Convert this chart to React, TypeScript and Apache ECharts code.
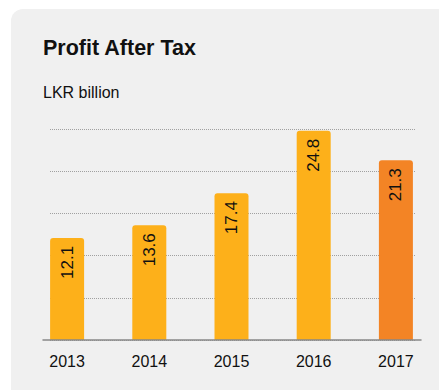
import React, { useEffect, useRef } from "react";
import * as echarts from "echarts";

const categories = ["2013", "2014", "2015", "2016", "2017"];
const values = [12.1, 13.6, 17.4, 24.8, 21.3];
const barColors = ["#FDB01A", "#FDB01A", "#FDB01A", "#FDB01A", "#F38425"];
const yMin = 0;
const yMax = 25;
const yInterval = 5;

export default function App() {
  const ref = useRef<HTMLDivElement>(null);
  useEffect(() => {
    if (!ref.current) return;
    const chart = echarts.init(ref.current, undefined, { renderer: "svg" });
    const font = "'Liberation Sans', Arial, Helvetica, sans-serif";
    const top = 129;
    const bottom = 50;
    chart.setOption({
      animation: false,
      backgroundColor: "#ffffff",
      graphic: [
        {
          type: "rect",
          z: -10,
          shape: { x: 11, y: 9, width: 440, height: 400, r: [12, 0, 0, 0] },
          style: { fill: "#f0f0f0" },
        },
        {
          type: "text",
          left: 43,
          top: 37,
          style: { text: "Profit After Tax", fontSize: 21.5, fontWeight: "bold", fill: "#111", fontFamily: font },
        },
        {
          type: "text",
          left: 43,
          top: 84,
          style: { text: "LKR billion", fontSize: 16, fill: "#111", fontFamily: font },
        },
      ],
      grid: [
        { left: 26, right: 2, top, bottom },
        { left: 50, right: 24, top, bottom },
        { left: 43, right: 18, top, bottom },
      ],
      xAxis: [
        {
          type: "category",
          gridIndex: 0,
          data: categories,
          axisLine: { show: false },
          axisTick: { show: false },
          axisLabel: { fontSize: 16, color: "#111", fontFamily: font, margin: 13 },
        },
        { type: "category", gridIndex: 1, data: categories, show: false },
        {
          type: "category",
          gridIndex: 2,
          data: categories,
          axisLine: { show: true, lineStyle: { color: "#888", width: 1.5 } },
          axisTick: { show: false },
          axisLabel: { show: false },
          z: 20,
        },
      ],
      yAxis: [
        { type: "value", gridIndex: 0, min: yMin, max: yMax, interval: yInterval, show: false, splitLine: { show: false } },
        {
          type: "value",
          gridIndex: 1,
          min: yMin,
          max: yMax,
          interval: yInterval,
          z: 0,
          axisLine: { show: false },
          axisTick: { show: false },
          axisLabel: { show: false },
          splitLine: { show: true, lineStyle: { color: "#a0a0a0", type: [1, 1], width: 1 } },
        },
        { type: "value", gridIndex: 2, min: yMin, max: yMax, interval: yInterval, show: false, splitLine: { show: false } },
      ],
      series: [
        {
          type: "bar",
          xAxisIndex: 0,
          yAxisIndex: 0,
          z: 10,
          barWidth: 34,
          data: values.map((v, i) => ({
            value: v,
            itemStyle: { color: barColors[i], borderRadius: [3, 3, 0, 0] },
          })),
          label: {
            show: true,
            position: "insideTop",
            rotate: 90,
            align: "right",
            verticalAlign: "middle",
            distance: 8,
            fontSize: 17,
            color: "#111",
            fontFamily: font,
            formatter: (p: any) => p.value.toFixed(1),
          },
        },
      ],
    });
    return () => chart.dispose();
  }, []);
  return (
    <div
      ref={ref}
      style={{ position: "fixed", left: 0, top: 0, width: 439, height: 390 }}
    />
  );
}
